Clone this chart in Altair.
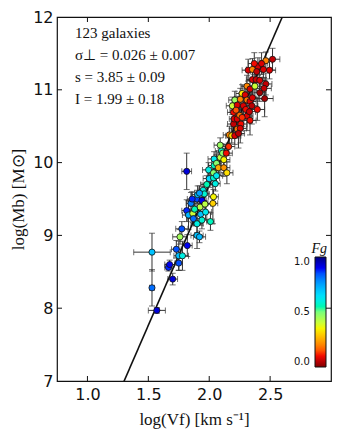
import altair as alt
import pandas as pd

# ---- data ----
log_v = [1.53, 1.53, 1.57, 1.665, 1.675, 1.70, 1.73, 1.75, 1.75, 1.78, 1.76, 1.775, 1.82, 1.815,
         1.90, 1.92, 2.01, 1.815, 1.83, 1.85, 1.865, 1.87, 1.90, 1.905, 1.925, 1.94, 1.95, 1.96,
         1.93, 1.90, 1.94, 1.97, 1.965, 2.035, 2.03, 1.98, 1.995, 2.00, 2.035, 2.05, 2.035, 2.04,
         2.04, 2.06, 2.075, 2.09, 2.10, 2.11, 2.09, 2.12, 2.145, 2.14, 2.12, 2.165, 2.185, 2.21,
         2.20, 2.205, 2.20, 2.23, 2.25, 2.26, 2.23, 2.255, 2.19, 2.21, 2.23, 2.255, 2.27, 2.295,
         2.28, 2.30, 2.31, 2.33, 2.335, 2.31, 2.335, 2.355, 2.395, 2.31, 2.335, 2.375, 2.355, 2.385,
         2.415, 2.32, 2.355, 2.40, 2.445, 2.465, 2.52, 2.495, 2.465, 2.45, 2.415, 2.455, 2.39, 2.43,
         2.37, 2.24, 2.27, 2.22, 2.35, 1.88, 1.92, 2.06, 2.16, 1.86]
log_m = [8.77, 8.28, 7.97, 8.56, 8.60, 8.40, 8.81, 8.72, 8.62, 8.72, 8.98, 9.09, 8.86, 9.88,
         9.00, 8.98, 9.19, 9.34, 9.28, 9.44, 9.30, 9.23, 9.50, 9.56, 9.39, 9.48, 9.62, 9.57,
         9.29, 9.16, 9.21, 9.32, 9.43, 9.53, 9.44, 9.70, 9.90, 9.78, 9.79, 9.71, 9.86, 9.96,
         10.05, 9.99, 9.93, 10.07, 10.16, 10.13, 10.24, 9.93, 9.86, 10.13, 10.04, 10.38, 10.37, 10.37,
         10.53, 10.60, 10.69, 10.60, 10.65, 10.53, 10.46, 10.47, 10.78, 10.86, 10.79, 10.87, 10.95, 10.93,
         10.78, 10.73, 10.64, 10.70, 10.58, 10.86, 10.84, 10.89, 10.73, 11.05, 11.01, 11.05, 11.14, 11.14,
         11.13, 11.27, 11.28, 11.32, 11.28, 11.40, 11.42, 11.27, 11.08, 11.02, 10.96, 10.88, 11.25, 11.36,
         11.36, 10.40, 10.62, 10.72, 10.78, 9.36, 9.58, 9.82, 10.22, 9.50]
f_gas = [0.70, 0.82, 0.92, 0.88, 0.90, 0.92, 0.85, 0.70, 0.85, 0.60, 0.45, 0.85, 0.90, 0.92,
         0.70, 0.72, 0.56, 0.88, 0.72, 0.80, 0.40, 0.82, 0.86, 0.70, 0.42, 0.90, 0.60, 0.58,
         0.70, 0.60, 0.58, 0.62, 0.42, 0.35, 0.30, 0.55, 0.60, 0.66, 0.58, 0.60, 0.48, 0.56,
         0.62, 0.48, 0.25, 0.42, 0.58, 0.48, 0.46, 0.22, 0.32, 0.10, 0.35, 0.20, 0.32, 0.08,
         0.06, 0.08, 0.10, 0.08, 0.18, 0.10, 0.18, 0.08, 0.40, 0.46, 0.08, 0.20, 0.34, 0.08,
         0.08, 0.10, 0.08, 0.06, 0.10, 0.18, 0.08, 0.08, 0.10, 0.20, 0.08, 0.40, 0.08, 0.06,
         0.08, 0.08, 0.20, 0.08, 0.08, 0.20, 0.06, 0.08, 0.06, 0.06, 0.03, 0.03, 0.06, 0.08,
         0.10, 0.05, 0.12, 0.15, 0.05, 0.55, 0.75, 0.62, 0.12, 0.88]
err_v = [0.15, 0.02, 0.07, 0.03, 0.04, 0.04, 0.04, 0.04, 0.03, 0.05, 0.06, 0.05, 0.04, 0.04,
         0.05, 0.05, 0.03, 0.04, 0.05, 0.04, 0.06, 0.05, 0.04, 0.05, 0.05, 0.04, 0.04, 0.04,
         0.05, 0.05, 0.04, 0.05, 0.05, 0.04, 0.04, 0.05, 0.05, 0.05, 0.05, 0.04, 0.05, 0.05,
         0.05, 0.04, 0.05, 0.04, 0.05, 0.05, 0.05, 0.05, 0.05, 0.05, 0.05, 0.05, 0.05, 0.05,
         0.05, 0.04, 0.05, 0.05, 0.05, 0.05, 0.05, 0.05, 0.05, 0.05, 0.05, 0.05, 0.05, 0.05,
         0.05, 0.05, 0.05, 0.05, 0.05, 0.05, 0.05, 0.05, 0.06, 0.05, 0.05, 0.05, 0.05, 0.05,
         0.05, 0.05, 0.05, 0.05, 0.05, 0.05, 0.06, 0.05, 0.05, 0.06, 0.05, 0.07, 0.05, 0.05,
         0.05, 0.05, 0.05, 0.05, 0.05, 0.05, 0.04, 0.05, 0.05, 0.04]
err_m = [0.26, 0.25, 0.04, 0.05, 0.06, 0.08, 0.12, 0.20, 0.10, 0.20, 0.10, 0.10, 0.15, 0.25,
         0.18, 0.08, 0.12, 0.15, 0.20, 0.15, 0.12, 0.10, 0.12, 0.12, 0.10, 0.12, 0.10, 0.10,
         0.15, 0.12, 0.12, 0.10, 0.12, 0.10, 0.28, 0.12, 0.10, 0.12, 0.10, 0.10, 0.10, 0.12,
         0.10, 0.12, 0.10, 0.12, 0.10, 0.12, 0.10, 0.12, 0.15, 0.12, 0.10, 0.12, 0.10, 0.12,
         0.15, 0.12, 0.12, 0.15, 0.12, 0.15, 0.12, 0.20, 0.12, 0.12, 0.12, 0.15, 0.12, 0.12,
         0.15, 0.15, 0.20, 0.15, 0.20, 0.12, 0.12, 0.12, 0.15, 0.15, 0.12, 0.15, 0.12, 0.12,
         0.15, 0.15, 0.15, 0.12, 0.12, 0.12, 0.15, 0.12, 0.15, 0.15, 0.12, 0.25, 0.12, 0.15,
         0.15, 0.20, 0.12, 0.12, 0.25, 0.12, 0.10, 0.10, 0.12, 0.10]

slope = 3.85
intercept = 1.99
fit_v = [1.30, 2.60]

x_ticks = [1.0, 1.5, 2.0, 2.5]
y_ticks = [8, 9, 10, 11]

info_lines = ["123 galaxies", "σ⊥ = 0.026 ± 0.007", "s = 3.85 ± 0.09", "I = 1.99 ± 0.18"]
x_title = "log(Vf) [km s⁻¹]"
y_title = "log(Mb) [M⊙]"
cbar_title = "Fg"

# reversed jet colour map
cmap_stops = [0, 0.09, 0.11, 0.34, 0.36, 0.5, 0.66, 0.89, 1]
cmap_colors = ["#800000", "#E80000", "#FF1300", "#FFEC00", "#EEFF08",
               "#7AFF7A", "#00DBFF", "#0000FF", "#000080"]

# ---- build tables ----
df = pd.DataFrame({"lv": log_v, "lm": log_m, "fg": f_gas, "ev": err_v, "em": err_m})
df["v_lo"] = df.lv - df.ev
df["v_hi"] = df.lv + df.ev
df["m_lo"] = df.lm - df.em
df["m_hi"] = df.lm + df.em

fit = pd.DataFrame({"lv": fit_v})
fit["lm"] = slope * fit.lv + intercept

W, H = 274, 364
SANS = "DejaVu Sans"
SERIF = "Liberation Serif"

xs = alt.Scale(domain=[0.75, 3.0], nice=False, zero=False)
ys = alt.Scale(domain=[7, 12], nice=False, zero=False)
xax = alt.Axis(values=x_ticks, format=".1f", title=x_title, tickSize=0, domain=False,
               grid=False, labelFont=SANS, labelFontSize=16, labelColor="#111",
               labelPadding=5, titleFont=SERIF, titleFontSize=17, titleFontWeight="normal",
               titleColor="#111", titlePadding=9)
yax = alt.Axis(values=[7, 8, 9, 10, 11, 12], format="d", title=y_title, tickSize=0, domain=False,
               grid=False, labelFont=SANS, labelFontSize=16, labelColor="#111",
               labelPadding=4, titleFont=SERIF, titleFontSize=17, titleFontWeight="normal",
               titleColor="#111", titlePadding=5)

base = alt.Chart(df)

xbar = base.mark_rule(color="#333", strokeWidth=1).encode(
    x=alt.X("v_lo:Q", scale=xs, axis=xax), x2="v_hi:Q", y=alt.Y("lm:Q", scale=ys, axis=yax))
ybar = base.mark_rule(color="#333", strokeWidth=1).encode(
    x=alt.X("lv:Q", scale=xs), y=alt.Y("m_lo:Q", scale=ys), y2="m_hi:Q")
cap_xl = base.mark_tick(orient="vertical", size=6, thickness=1, color="#333").encode(
    x=alt.X("v_lo:Q", scale=xs), y=alt.Y("lm:Q", scale=ys))
cap_xh = base.mark_tick(orient="vertical", size=6, thickness=1, color="#333").encode(
    x=alt.X("v_hi:Q", scale=xs), y=alt.Y("lm:Q", scale=ys))
cap_yl = base.mark_tick(orient="horizontal", size=6, thickness=1, color="#333").encode(
    x=alt.X("lv:Q", scale=xs), y=alt.Y("m_lo:Q", scale=ys))
cap_yh = base.mark_tick(orient="horizontal", size=6, thickness=1, color="#333").encode(
    x=alt.X("lv:Q", scale=xs), y=alt.Y("m_hi:Q", scale=ys))

fitline = alt.Chart(fit).mark_line(color="#111", strokeWidth=1.6, clip=True).encode(
    x=alt.X("lv:Q", scale=xs), y=alt.Y("lm:Q", scale=ys))

points = base.mark_circle(size=38, opacity=1, stroke="#111", strokeWidth=0.8).encode(
    x=alt.X("lv:Q", scale=xs), y=alt.Y("lm:Q", scale=ys),
    color=alt.Color("fg:Q", scale=alt.Scale(domain=cmap_stops, range=cmap_colors),
                    legend=alt.Legend(orient="none", legendX=254, legendY=225,
                                      direction="vertical", gradientLength=110,
                                      gradientThickness=11, values=[0, 0.5, 1], format=".1f",
                                      labelAlign="left", labelOffset={"expr": "-32"},
                                      labelBaseline="middle",
                                      labelFont=SANS, labelFontSize=10, labelColor="#111",
                                      gradientStrokeColor="#111", gradientStrokeWidth=1,
                                      title=cbar_title, titleFont=SERIF, titleFontSize=14,
                                      titleFontStyle="italic", titleFontWeight="normal",
                                      titleAnchor="end", titlePadding=1, titleColor="#111")))

xt = pd.DataFrame({"v": x_ticks})
yt = pd.DataFrame({"v": y_ticks})
tick_b = alt.Chart(xt).mark_rule(color="#111").encode(
    x=alt.X("v:Q", scale=xs), y=alt.value(H), y2=alt.value(H - 5))
tick_t = alt.Chart(xt).mark_rule(color="#111").encode(
    x=alt.X("v:Q", scale=xs), y=alt.value(0), y2=alt.value(5))
tick_l = alt.Chart(yt).mark_rule(color="#111").encode(
    y=alt.Y("v:Q", scale=ys), x=alt.value(0), x2=alt.value(5))
tick_r = alt.Chart(yt).mark_rule(color="#111").encode(
    y=alt.Y("v:Q", scale=ys), x=alt.value(W - 5), x2=alt.value(W))

text_layers = []
for i, line in enumerate(info_lines):
    text_layers.append(
        alt.Chart(pd.DataFrame({"t": [line]})).mark_text(
            align="left", baseline="alphabetic", font=SERIF, fontSize=15, color="#111"
        ).encode(text="t:N", x=alt.value(18), y=alt.value(21 + 22 * i)))

chart = alt.layer(
    xbar, ybar, cap_xl, cap_xh, cap_yl, cap_yh, fitline, points,
    tick_b, tick_t, tick_l, tick_r, *text_layers
).properties(
    width=W, height=H,
    autosize=alt.AutoSizeParams(type="none"),
    padding={"left": 49, "top": 9, "right": 10, "bottom": 50},
).configure_view(stroke="#111", strokeWidth=1.2)

chart.save("out.html", embed_options={"renderer": "svg", "actions": False})
